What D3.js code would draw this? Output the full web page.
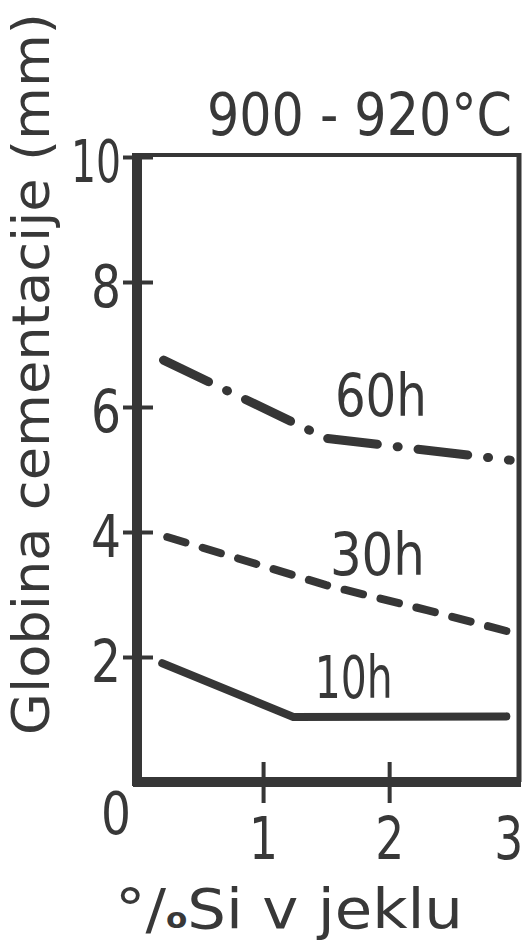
<!DOCTYPE html>
<html><head><meta charset="utf-8">
<script src="https://cdn.jsdelivr.net/npm/d3@7"></script>
<style>
html,body{margin:0;padding:0;background:#fff;}
svg{display:block;}
text{font-family:'DejaVu Sans Condensed','DejaVu Sans',sans-serif;font-stretch:condensed;fill:#383838;}
</style></head>
<body>
<svg id="chart" width="529" height="946"></svg>
<script>
// ---- data ----
const seriesNames = ["10h", "30h", "60h"];
const siPercent10 = [0.20, 1.24, 2.93];
const depth10     = [1.90, 1.04, 1.05];
const siPercent30 = [0.24, 1.50, 2.30, 2.96];
const depth30     = [3.92, 3.15, 2.75, 2.40];
const siPercent60 = [0.21, 1.50, 2.96];
const depth60     = [6.75, 5.50, 5.15];
const labelSi     = [1.41, 1.53, 1.57];
const labelDepth  = [1.34, 3.31, 5.86];
const yTicks = [2, 4, 6, 8, 10];
const xTicks = [1, 2, 3];
const xTickMarks = [1, 2];
const titleText = "900 - 920°C";
const yTitle = "Globina cementacije (mm)";

// ---- layout ----
const ink = "#363636";
const FONT = "'DejaVu Sans Condensed','DejaVu Sans',sans-serif";
const svg = d3.select("#chart");
const x = d3.scaleLinear().domain([0, 3.03]).range([137, 519]);
const y = d3.scaleLinear().domain([0, 10]).range([782, 157]);

// frame: top & right thin
svg.append("line").attr("x1", x(0)).attr("x2", x(3.03)).attr("y1", y(10) - 2).attr("y2", y(10) - 2)
  .attr("stroke", ink).attr("stroke-width", 4);
svg.append("line").attr("x1", x(3.03)).attr("x2", x(3.03)).attr("y1", y(10) - 4).attr("y2", y(0))
  .attr("stroke", ink).attr("stroke-width", 5);

// y axis
const yAxis = d3.axisLeft(y).tickValues(yTicks).tickSize(0).tickPadding(16).tickFormat(d3.format("d"));
const gy = svg.append("g").attr("transform", `translate(${x(0)},0)`).call(yAxis);
gy.select(".domain").remove();
gy.selectAll(".tick line").remove();
gy.selectAll(".tick").append("line").attr("x1", -14).attr("x2", 16).attr("stroke", ink).attr("stroke-width", 4);
gy.selectAll(".tick text").attr("font-size", 58).attr("fill", ink).attr("dy", "0.42em")
  .attr("font-family", FONT)
  .attr("textLength", d => d >= 10 ? 50 : 30).attr("lengthAdjust", "spacingAndGlyphs");
svg.append("line").attr("x1", x(0)).attr("x2", x(0)).attr("y1", y(10) - 4).attr("y2", y(0) + 4)
  .attr("stroke", ink).attr("stroke-width", 10);

// x axis
const xAxis = d3.axisBottom(x).tickValues(xTicks).tickSize(0).tickPadding(36).tickFormat(d3.format("d"));
const gx = svg.append("g").attr("transform", `translate(0,${y(0)})`).call(xAxis);
gx.select(".domain").remove();
gx.selectAll(".tick line").remove();
gx.selectAll(".tick").filter(d => xTickMarks.includes(d)).append("line")
  .attr("y1", -20).attr("y2", 21).attr("stroke", ink).attr("stroke-width", 4);
gx.selectAll(".tick text").attr("font-size", 58).attr("fill", ink)
  .attr("font-family", FONT)
  .attr("textLength", 29).attr("lengthAdjust", "spacingAndGlyphs");
gx.selectAll(".tick").filter(d => d === 3).select("text").attr("x", -7);
svg.append("line").attr("x1", x(0) - 4).attr("x2", x(3.03) + 2).attr("y1", y(0)).attr("y2", y(0))
  .attr("stroke", ink).attr("stroke-width", 10);

// origin label
svg.append("text").attr("x", x(0) - 21).attr("y", y(0) + 52).attr("text-anchor", "middle")
  .attr("font-size", 58).attr("textLength", 30).attr("lengthAdjust", "spacingAndGlyphs").text("0");

// lines
const line = d3.line().x(d => x(d[0])).y(d => y(d[1]));
const s10 = d3.zip(siPercent10, depth10);
const s30 = d3.zip(siPercent30, depth30);
const s60 = d3.zip(siPercent60, depth60);
svg.append("path").datum(s10).attr("d", line).attr("fill", "none").attr("stroke", ink)
  .attr("stroke-width", 8).attr("stroke-linecap", "round").attr("stroke-linejoin", "round");
svg.append("path").datum(s30).attr("d", line).attr("fill", "none").attr("stroke", ink)
  .attr("stroke-width", 8).attr("stroke-linecap", "round").attr("stroke-dasharray", "19,18");
svg.append("path").datum(s60).attr("d", line).attr("fill", "none").attr("stroke", ink)
  .attr("stroke-width", 9).attr("stroke-linecap", "round").attr("stroke-dasharray", "50,20,1,20");

// series labels
const labelWidths = [78, 95, 92];
svg.selectAll(".slabel").data(seriesNames).enter().append("text")
  .attr("class", "slabel")
  .attr("x", (d, i) => x(labelSi[i])).attr("y", (d, i) => y(labelDepth[i]))
  .attr("font-size", 58)
  .attr("textLength", (d, i) => labelWidths[i]).attr("lengthAdjust", "spacingAndGlyphs")
  .text(d => d);

// title
svg.append("text").attr("x", 207).attr("y", 135).attr("font-size", 58)
  .attr("textLength", 305).attr("lengthAdjust", "spacingAndGlyphs").text(titleText);

// y title
svg.append("text").attr("transform", "translate(49,735) rotate(-90)")
  .attr("font-size", 52).attr("textLength", 722).attr("lengthAdjust", "spacingAndGlyphs").text(yTitle);

// x title
const xt = svg.append("text").attr("x", 115).attr("y", 928).attr("font-size", 55)
  .attr("textLength", 348).attr("lengthAdjust", "spacingAndGlyphs");
xt.append("tspan").text("°/");
xt.append("tspan").attr("font-size", 28).attr("font-weight", "bold").text("o");
xt.append("tspan").text("Si v jeklu");
</script>
</body></html>
